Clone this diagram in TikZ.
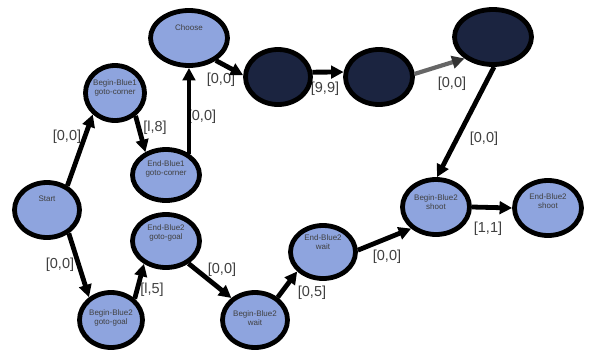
\documentclass[tikz,border=0pt]{standalone}
\usepackage{fontspec}
\setmainfont{Liberation Sans}
\usetikzlibrary{shapes.geometric,arrows.meta}
\definecolor{statefill}{HTML}{8EA4DE}
\definecolor{hiddenfill}{HTML}{1B2440}
\begin{document}
\begin{tikzpicture}[x=1pt,y=-1pt,
  state/.style={ellipse,draw=black,line width=4.8pt,fill=statefill,inner sep=0pt},
  hidden/.style={state,fill=hiddenfill},
  nametext/.style={font=\fontsize{8}{9}\selectfont,text=black!75,align=center,inner sep=0pt},
  edgelabel/.style={font=\fontsize{14.5}{16}\selectfont,text=black!75,inner sep=0pt},
  trans/.style={line width=4.8pt,draw=black,-{Triangle[length=12.5pt,width=12.5pt]}},
  faint/.style={line width=4.2pt,draw=black!60,-{Triangle[length=12.5pt,width=12.5pt,color=black!80]}},
]
\useasboundingbox[fill=white] (0,0) rectangle (589,354);

% transition labels (drawn first so borders and lines sit on top)
\node[edgelabel] (e1)  at (67,137)  {[0,0]};
\node[edgelabel] (e2)  at (155,128) {[l,8]};
\node[edgelabel] (e3)  at (202,117) {[0,0]};
\node[edgelabel] (e4)  at (221,80)  {[0,0]};
\node[edgelabel] (e5)  at (325,89)  {[9,9]};
\node[edgelabel] (e6)  at (452,84)  {[0,0]};
\node[edgelabel] (e7)  at (484,139) {[0,0]};
\node[edgelabel] (e8)  at (60,265)  {[0,0]};
\node[edgelabel] (e9)  at (152,290) {[l,5]};
\node[edgelabel] (e10) at (222,270) {[0,0]};
\node[edgelabel] (e11) at (312,293) {[0,5]};
\node[edgelabel] (e12) at (387,257) {[0,0]};
\node[edgelabel] (e13) at (488,229) {[1,1]};

% states
\node[state,minimum width=77pt,minimum height=55pt,
  label={[nametext,yshift=10pt]center:Choose}] (choose) at (189,38) {};
\node[state,minimum width=59pt,minimum height=55pt,
  label={[nametext,yshift=5pt]center:Begin-Blue1\\goto-corner}] (bb1) at (115,93) {};
\node[state,minimum width=67pt,minimum height=51pt,
  label={[nametext,yshift=6pt]center:End-Blue1\\goto-corner}] (eb1) at (166,175) {};
\node[hidden,minimum width=65pt,minimum height=55pt] (d1) at (278,77) {};
\node[hidden,minimum width=67pt,minimum height=55pt] (d2) at (379,77) {};
\node[hidden,minimum width=77pt,minimum height=55pt] (d3) at (493,37) {};
\node[state,minimum width=65pt,minimum height=55pt,
  label={[nametext,yshift=11pt]center:Start}] (start) at (47,210) {};
\node[state,minimum width=67pt,minimum height=53pt,
  label={[nametext,yshift=8pt]center:End-Blue2\\goto-goal}] (eb2g) at (166,241) {};
\node[state,minimum width=63pt,minimum height=55pt,
  label={[nametext,yshift=2pt]center:Begin-Blue2\\goto-goal}] (bb2g) at (111,320) {};
\node[state,minimum width=65pt,minimum height=55pt,
  label={[nametext,yshift=2pt]center:Begin-Blue2\\wait}] (bb2w) at (255,320) {};
\node[state,minimum width=65pt,minimum height=53pt,
  label={[nametext,yshift=10pt]center:End-Blue2\\wait}] (eb2w) at (323,252) {};
\node[state,minimum width=67pt,minimum height=55pt,
  label={[nametext,yshift=5pt]center:Begin-Blue2\\shoot}] (bbs) at (436,207) {};
\node[state,minimum width=67pt,minimum height=55pt,
  label={[nametext,yshift=7pt]center:End-Blue2\\shoot}] (ebs) at (548,208) {};

% transitions
\draw[trans] (start.50) -- (bb1.224);
\draw[trans] (bb1.312) -- (eb1.132);
\draw[trans] (eb1.43) -- (eb1.43 |- choose.south);
\draw[trans] (choose.-40) -- (d1.177);
\draw[trans] (d1.8) -- (d2.172);
\draw[faint] (d2.5) -- (d3.217);
\draw[trans] (d3.272) -- (bbs.88);
\draw[trans] (start.-47) -- (bb2g.134);
\draw[trans] (bb2g.42) -- (eb2g.226);
\draw[trans] (eb2g.-45) -- (bb2w.137);
\draw[trans] (bb2w.45) -- (eb2w.217);
\draw[trans] (eb2w.3) -- (bbs.221);
\draw[trans] (bbs.0) -- (ebs.180);
\end{tikzpicture}
\end{document}
